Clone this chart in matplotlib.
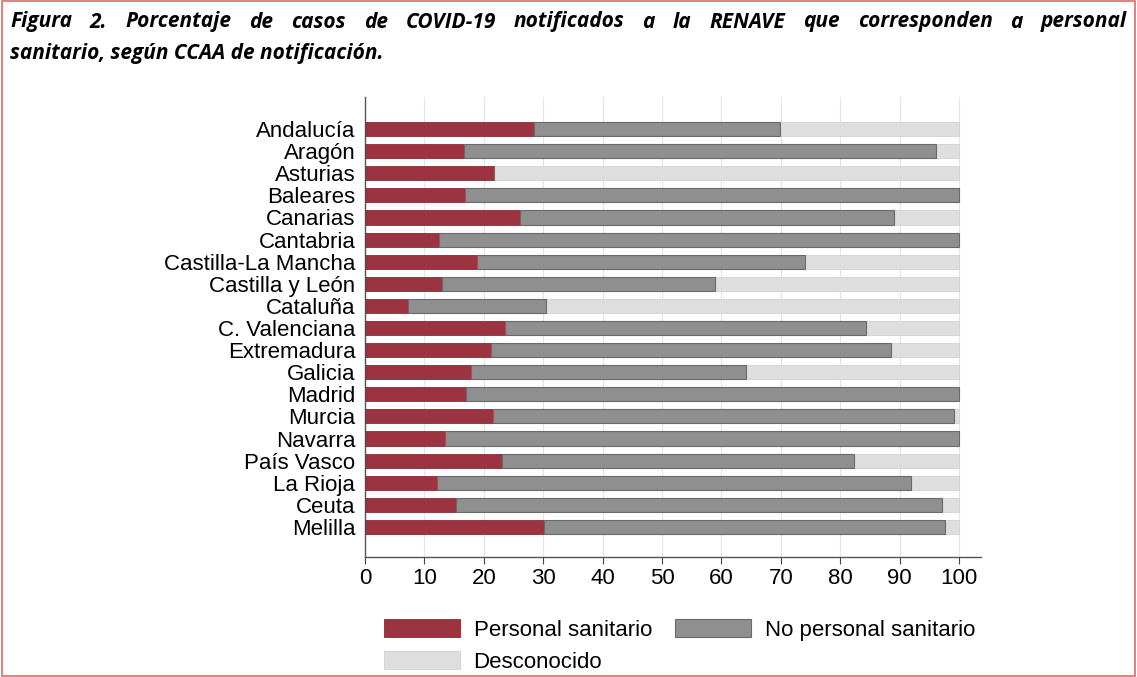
import matplotlib.pyplot as plt
from matplotlib.patches import Rectangle

regions = ['Andalucía', 'Aragón', 'Asturias', 'Baleares', 'Canarias', 'Cantabria',
           'Castilla-La Mancha', 'Castilla y León', 'Cataluña', 'C. Valenciana',
           'Extremadura', 'Galicia', 'Madrid', 'Murcia', 'Navarra', 'País Vasco',
           'La Rioja', 'Ceuta', 'Melilla']
sanitario = [28.5, 16.6, 21.8, 16.8, 26.1, 12.4, 18.8, 13.0, 7.2, 23.5,
             21.2, 17.9, 17.0, 21.6, 13.5, 23.0, 12.2, 15.4, 30.1]
no_sanitario = [41.4, 79.5, 0.0, 83.2, 62.9, 87.6, 55.3, 45.9, 23.2, 60.9,
                67.3, 46.3, 83.0, 77.6, 86.5, 59.4, 79.8, 81.7, 67.6]
desconocido = [30.1, 3.9, 78.2, 0.0, 11.0, 0.0, 25.9, 41.1, 69.6, 15.6,
               11.5, 35.8, 0.0, 0.8, 0.0, 17.6, 8.0, 2.9, 2.3]
ticks = list(range(0, 101, 10))
title_1 = 'Figura 2. Porcentaje de casos de COVID-19 notificados a la RENAVE que corresponden a personal'
title_2 = 'sanitario, según CCAA de notificación.'

RED = '#9b3440'
GREY = '#8f8f8f'
LIGHT = '#dedede'
FONT = 'Liberation Sans'
FS = 16

W, H = 1137, 677
fig = plt.figure(figsize=(W / 100, H / 100), dpi=100)
ax = fig.add_axes([365 / W, 1 - 557 / H, (981 - 365) / W, (557 - 97) / H])

y = list(range(len(regions)))
left3 = [a + b for a, b in zip(sanitario, no_sanitario)]
h = 0.64
b1 = ax.barh(y, sanitario, height=h, color=RED, edgecolor='#8a2a35', linewidth=0.6,
             label='Personal sanitario', zorder=3)
b2 = ax.barh(y, no_sanitario, left=sanitario, height=h, color=GREY, edgecolor='#6a6a6a',
             linewidth=0.8, label='No personal sanitario', zorder=3)
b3 = ax.barh(y, desconocido, left=left3, height=h, color=LIGHT, edgecolor='#d2d2d2',
             linewidth=0.6, label='Desconocido', zorder=2)

ax.set_xlim(0, 103.7)
ax.set_ylim(len(regions) - 1 + 1.36, -1.45)
ax.set_xticks(ticks)
ax.set_xticklabels([str(t) for t in ticks], family=FONT, fontsize=FS)
ax.set_yticks(y)
ax.set_yticklabels(regions, family=FONT, fontsize=FS)
ax.tick_params(axis='y', length=0, pad=7)
ax.tick_params(axis='x', length=5, color='#444444', pad=3)
ax.grid(axis='x', color='#e4e4e4', linewidth=0.8, zorder=0)
for s in ['top', 'right']:
    ax.spines[s].set_visible(False)
for s in ['left', 'bottom']:
    ax.spines[s].set_color('#555555')
    ax.spines[s].set_linewidth(1.0)

# row-major order like the original: column 1 = Personal, Desconocido
fig.legend([b1, b3, b2], ['Personal sanitario', 'Desconocido', 'No personal sanitario'],
           ncol=2, loc='upper left', bbox_to_anchor=(384 / W, 1 - 619 / H), frameon=False,
           prop={'family': FONT, 'size': FS}, handlelength=3.4, handleheight=0.9,
           columnspacing=1.05, handletextpad=0.63, labelspacing=0.45,
           borderpad=0, borderaxespad=0)

# justified first title line
tkw = dict(fontsize=15, fontweight='bold', fontstyle='italic', family='Open Sans',
           va='center', ha='left')
fig.canvas.draw()
renderer = fig.canvas.get_renderer()
words = title_1.split(' ')
arts = [fig.text(0, 1 - 22 / H, w_, **tkw) for w_ in words]
widths = [a.get_window_extent(renderer).width for a in arts]
x0, x1 = 10, 1127
gap = (x1 - x0 - sum(widths)) / (len(words) - 1)
x = x0
for a, wd in zip(arts, widths):
    a.set_x(x / W)
    x += wd + gap
fig.text(10 / W, 1 - 54 / H, title_2, **tkw)

fig.patches.append(Rectangle((0.002, 0.002), 0.996, 0.996, transform=fig.transFigure,
                             fill=False, edgecolor='#e06a6a', linewidth=1.2))

fig.savefig('out.png', dpi=100)
